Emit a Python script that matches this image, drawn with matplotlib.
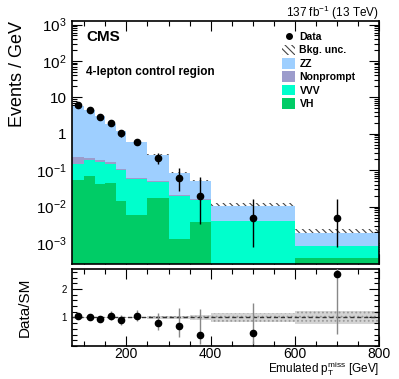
import numpy as np
import matplotlib
matplotlib.use("Agg")
import matplotlib.pyplot as plt
from matplotlib.patches import Patch
from matplotlib.lines import Line2D
from matplotlib.ticker import FixedLocator, FuncFormatter, MultipleLocator, LogLocator, NullFormatter

plt.rcParams['font.family'] = ['Liberation Sans', 'DejaVu Sans']
plt.rcParams['mathtext.fontset'] = 'custom'
plt.rcParams['mathtext.rm'] = 'Liberation Sans'
plt.rcParams['mathtext.it'] = 'Liberation Sans:italic'
plt.rcParams['hatch.linewidth'] = 0.8

# ---- data ----
edges = [70, 100, 125, 150, 175, 200, 250, 300, 350, 400, 600, 800]
vh = [0.0545, 0.0702, 0.0415, 0.0451, 0.0144, 0.00584, 0.0171, 0.00128, 0.00375, 0.00015, 0.000385]
vvv = [0.0925, 0.1148, 0.1285, 0.1019, 0.0881, 0.0511, 0.0300, 0.0179, 0.0110, 0.00375, 0.000455]
nonprompt = [0.082, 0.025, 0.023, 0.016, 0.002, 0.005, 0.0025, 0.001, 0.001, 0.0, 0.0]
zz = [5.65, 4.35, 2.80, 1.67, 1.055, 0.515, 0.2155, 0.066, 0.034, 0.0067, 0.00107]
bkg_unc = [0.02, 0.02, 0.02, 0.03, 0.03, 0.03, 0.06, 0.06, 0.10, 0.15, 0.24]
data = [6.26, 4.56, 2.80, 1.92, 1.04, 0.61, 0.215, 0.061, 0.0198, 0.0048, 0.0048]
data_lo = [0.45, 0.42, 0.33, 0.28, 0.2, 0.11, 0.065, 0.035, 0.0165, 0.0040, 0.0040]
data_hi = [0.48, 0.44, 0.35, 0.30, 0.21, 0.12, 0.09, 0.053, 0.045, 0.0113, 0.0113]

colors = {'ZZ': '#9ecfff', 'Nonprompt': '#9c9ccc', 'VVV': '#00ffcc', 'VH': '#00cc66'}

edges = np.array(edges, float)
centers = 0.5 * (edges[:-1] + edges[1:])
vh = np.array(vh); vvv = np.array(vvv); nonprompt = np.array(nonprompt); zz = np.array(zz)
data = np.array(data); data_lo = np.array(data_lo); data_hi = np.array(data_hi)
unc = np.array(bkg_unc)

c1 = vh
c2 = c1 + vvv
c3 = c2 + nonprompt
total = c3 + zz

fig = plt.figure(figsize=(3.99, 3.79), dpi=100)
ax = fig.add_axes([0.1797, 0.3026, 0.7702, 0.6420])
rax = fig.add_axes([0.1797, 0.0871, 0.7702, 0.2031])

base = 1e-7
ax.stairs(total * (1 + unc), edges, baseline=total * (1 - unc), fill=True,
          facecolor='none', edgecolor='#444444', hatch='\\\\\\\\\\', linewidth=0, zorder=1)
ax.stairs(total, edges, baseline=c3, fill=True, color=colors['ZZ'], lw=0, zorder=2)
ax.stairs(c3, edges, baseline=c2, fill=True, color=colors['Nonprompt'], lw=0, zorder=2)
ax.stairs(c2, edges, baseline=c1, fill=True, color=colors['VVV'], lw=0, zorder=2)
ax.stairs(c1, edges, baseline=base, fill=True, color=colors['VH'], lw=0, zorder=2)

ax.errorbar(centers, data, yerr=[data_lo, data_hi], fmt='o', color='black',
            ms=4.5, elinewidth=1.0, capsize=0, zorder=5)

ax.set_yscale('log')
ax.set_xlim(70, 800)
ax.set_ylim(2.6e-4, 1.25e3)

def logfmt(v, pos):
    e = int(round(np.log10(v)))
    if e == 0:
        return '1'
    if e == 1:
        return '10'
    return r'$10^{%d}$' % e

ax.yaxis.set_major_locator(FixedLocator([1e-3, 1e-2, 1e-1, 1, 10, 100, 1000]))
ax.yaxis.set_major_formatter(FuncFormatter(logfmt))
ax.yaxis.set_minor_locator(LogLocator(base=10, subs=np.arange(2, 10), numticks=20))
ax.yaxis.set_minor_formatter(NullFormatter())
ax.xaxis.set_major_locator(MultipleLocator(200))
ax.xaxis.set_minor_locator(MultipleLocator(50))
ax.tick_params(axis='x', labelbottom=False)
for a in (ax, rax):
    a.tick_params(which='both', direction='in', top=True, right=True, width=0.8)
    a.tick_params(which='major', length=7)
    a.tick_params(which='minor', length=3.5)
    for s in a.spines.values():
        s.set_linewidth(1.2)
ax.tick_params(axis='y', labelsize=11)

ax.set_ylabel('Events / GeV', fontsize=13, loc='top')
ax.yaxis.set_label_coords(-0.15, 1.0)
ax.text(0.047, 0.934, 'CMS', transform=ax.transAxes, fontsize=11, fontweight='bold', va='center', ha='left')
ax.text(0.047, 0.792, '4-lepton control region', transform=ax.transAxes, fontsize=8.5,
        fontweight='bold', va='center', ha='left')
ax.text(1.0, 1.033, r'137 fb$^{-1}$ (13 TeV)', transform=ax.transAxes, fontsize=8.5, ha='right', va='center')

handles = [
    Line2D([], [], marker='o', color='black', ms=4, lw=0),
    Patch(facecolor='none', edgecolor='#444444', hatch='\\\\\\\\\\', lw=0),
    Patch(facecolor=colors['ZZ'], lw=0),
    Patch(facecolor=colors['Nonprompt'], lw=0),
    Patch(facecolor=colors['VVV'], lw=0),
    Patch(facecolor=colors['VH'], lw=0),
]
labels = ['Data', 'Bkg. unc.', 'ZZ', 'Nonprompt', 'VVV', 'VH']
leg = ax.legend(handles, labels, loc='upper left', bbox_to_anchor=(0.67, 0.975), frameon=False,
                prop={'size': 7.5, 'weight': 'bold'}, handlelength=1.3, handleheight=1.2,
                labelspacing=0.24, handletextpad=0.4, borderaxespad=0)

# ratio
ratio = data / total
r_lo = data_lo / total
r_hi = data_hi / total
rax.stairs(1 + unc, edges, baseline=1 - unc, fill=True, facecolor='#d4d4d4',
           edgecolor='#9a9a9a', hatch='....', lw=0, zorder=1)
rax.axhline(1.0, color='#333333', ls=(0, (3, 2)), lw=1.0, zorder=2)
rax.errorbar(centers, ratio, yerr=[r_lo, r_hi], fmt='o', color='black', ecolor='#888888',
             ms=4.5, elinewidth=1.0, capsize=0, zorder=5)
rax.set_xlim(70, 800)
rax.set_ylim(0, 2.7)
rax.yaxis.set_major_locator(FixedLocator([1, 2]))
rax.yaxis.set_minor_locator(MultipleLocator(0.2))
rax.xaxis.set_major_locator(MultipleLocator(200))
rax.xaxis.set_minor_locator(MultipleLocator(50))
rax.tick_params(axis='y', labelsize=7)
rax.tick_params(axis='x', labelsize=10, pad=0.5)
rax.set_ylabel('Data/SM', fontsize=11)
rax.yaxis.set_label_coords(-0.129, 0.5)
fig.text(0.95, 0.003, r'Emulated p$_\mathrm{T}^\mathrm{miss}$ [GeV]', fontsize=8.5, ha='right', va='bottom')

fig.savefig('out.png', dpi=100)
